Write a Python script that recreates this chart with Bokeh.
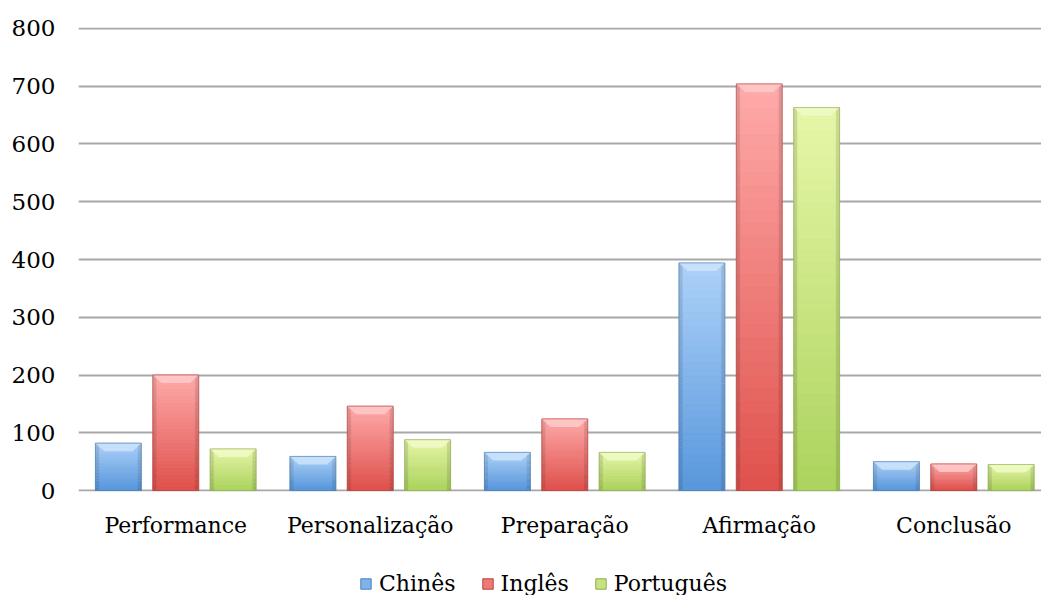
import numpy as np
from bokeh.plotting import figure
from bokeh.layouts import column
from bokeh.models import Range1d, FixedTicker, ColumnDataSource, Legend, LegendItem
from bokeh.embed import file_html
from bokeh.resources import INLINE

# Discourse move counts per language
categories = ["Performance", "Personalização", "Preparação", "Afirmação", "Conclusão"]
series_names = ["Chinês", "Inglês", "Português"]
chines = [82, 59, 66, 394, 50]
ingles = [200, 146, 124, 704, 46]
portugues = [72, 88, 66, 663, 45]
y_ticks = [0, 100, 200, 300, 400, 500, 600, 700, 800]

series_values = [chines, ingles, portugues]
# (top colour, bottom colour) for each series' vertical gradient
gradients = [("#aed2f9", "#5897dc"), ("#ffabaa", "#df514c"), ("#e7f7a8", "#acd35e")]
outline_colors = ["#4a7fbd", "#b9403c", "#8aad4c"]

FONT = "DejaVu Serif"
FONT_SIZE = "22px"
N_SLICES = 32
BAR_W = 0.236
OFFSETS = [-0.295, 0.0, 0.295]
EDGE = 0.02          # width of the darker side strips (x units)
BEVEL_DX = 0.045     # horizontal inset of the top bevel (x units)
BEVEL_DY = 14.0      # depth of the top bevel (y units)


def hex_to_rgb(h):
    h = h.lstrip("#")
    return np.array([int(h[i:i + 2], 16) for i in (0, 2, 4)], dtype=float)


def rgb_to_hex(c):
    c = np.clip(np.round(c), 0, 255).astype(int)
    return "#%02x%02x%02x" % tuple(c)


def mix(a, b, t):
    return a + (b - a) * t


p = figure(
    frame_width=963, frame_height=464,
    x_range=Range1d(0, 4.951), y_range=Range1d(-1.7, 801.7),
    output_backend="svg", toolbar_location=None,
    min_border_left=78, min_border_right=0, min_border_top=27, min_border_bottom=56,
)
p.outline_line_color = None
p.background_fill_color = "white"
p.border_fill_color = "white"

# horizontal grid
p.xgrid.visible = False
p.ygrid.ticker = FixedTicker(ticks=y_ticks)
p.ygrid.grid_line_color = "#a8a8a8"
p.ygrid.grid_line_width = 2

# y axis
p.yaxis.ticker = FixedTicker(ticks=y_ticks)
p.yaxis.axis_line_color = None
p.yaxis.major_tick_line_color = None
p.yaxis.major_tick_out = 0
p.yaxis.major_tick_in = 0
p.yaxis.minor_tick_line_color = None
p.yaxis.major_label_text_font = FONT
p.yaxis.major_label_text_font_size = "23px"
p.yaxis.major_label_text_color = "black"
p.yaxis.major_label_standoff = 23

# x axis with category names at band centres
centres = [i + 0.5 for i in range(len(categories))]
p.xaxis.ticker = FixedTicker(ticks=centres)
p.xaxis.major_label_overrides = {c: name for c, name in zip(centres, categories)}
p.xaxis.axis_line_color = None
p.xaxis.major_tick_line_color = None
p.xaxis.major_tick_out = 0
p.xaxis.major_tick_in = 0
p.xaxis.minor_tick_line_color = None
p.xaxis.major_label_text_font = FONT
p.xaxis.major_label_text_font_size = FONT_SIZE
p.xaxis.major_label_text_color = "black"
p.xaxis.major_label_standoff = 21

swatch_colors = []
for s, (vals, (c_top, c_bot), c_line) in enumerate(zip(series_values, gradients, outline_colors)):
    top_rgb, bot_rgb = hex_to_rgb(c_top), hex_to_rgb(c_bot)
    xs_c = [c + OFFSETS[s] for c in centres]

    xs, tops, bottoms, fills, edge_fills = [], [], [], [], []
    for x, v in zip(xs_c, vals):
        for k in range(N_SLICES):
            t = (k + 0.5) / N_SLICES
            col = mix(top_rgb, bot_rgb, t)
            xs.append(x)
            tops.append(v * (1 - k / N_SLICES))
            bottoms.append(v * (1 - (k + 1) / N_SLICES))
            fills.append(rgb_to_hex(col))
            edge_fills.append(rgb_to_hex(col * 0.88))
    src = ColumnDataSource(dict(x=xs, top=tops, bottom=bottoms, fill=fills, edge=edge_fills))

    # darker side strips, then the main gradient body
    p.vbar(x="x", top="top", bottom="bottom", width=BAR_W, source=src,
           fill_color="edge", line_color="edge", line_width=0.6)
    p.vbar(x="x", top="top", bottom="bottom", width=BAR_W - 2 * EDGE, source=src,
           fill_color="fill", line_color="fill", line_width=0.6)

    # light bevel along the top of every bar
    bev_x, bev_y = [], []
    for x, v in zip(xs_c, vals):
        l, r = x - BAR_W / 2, x + BAR_W / 2
        bev_x.append([l, r, r - BEVEL_DX, l + BEVEL_DX])
        bev_y.append([v, v, v - BEVEL_DY, v - BEVEL_DY])
    bevel_col = rgb_to_hex(mix(top_rgb, np.array([255.0, 255.0, 255.0]), 0.35))
    p.patches(xs=bev_x, ys=bev_y, fill_color=bevel_col, line_color=None, fill_alpha=0.9)

    # thin outline around each bar
    p.vbar(x=xs_c, top=vals, bottom=0, width=BAR_W, fill_alpha=0.0,
           line_color=c_line, line_width=1, line_alpha=0.6)

    swatch_colors.append(rgb_to_hex(mix(top_rgb, bot_rgb, 0.55)))

# legend strip under the chart (its frame is aligned with the chart's frame)
leg = figure(
    width=1041, height=48, x_range=Range1d(0, 1), y_range=Range1d(0, 1),
    x_axis_type=None, y_axis_type=None,
    output_backend="svg", toolbar_location=None, min_border=0,
)
leg.outline_line_color = None
leg.xgrid.visible = False
leg.ygrid.visible = False
items = []
for name, col, c_line in zip(series_names, swatch_colors, outline_colors):
    # swatch renderer kept outside the visible range; only its legend glyph shows
    r = leg.vbar(x=[5], top=[0.5], width=0.1, fill_color=col, line_color=c_line, line_width=1)
    items.append(LegendItem(label=name, renderers=[r]))

legend = Legend(
    items=items, orientation="horizontal", location=(281, -1),
    label_text_font=FONT, label_text_font_size=FONT_SIZE, label_text_color="black",
    label_height=22, glyph_width=13, glyph_height=13, label_standoff=7, spacing=25,
    border_line_color=None, background_fill_alpha=0.0, padding=0, margin=0,
)
leg.add_layout(legend, "center")

layout = column(p, leg, spacing=0)
open("out.html", "w").write(file_html(layout, INLINE))
